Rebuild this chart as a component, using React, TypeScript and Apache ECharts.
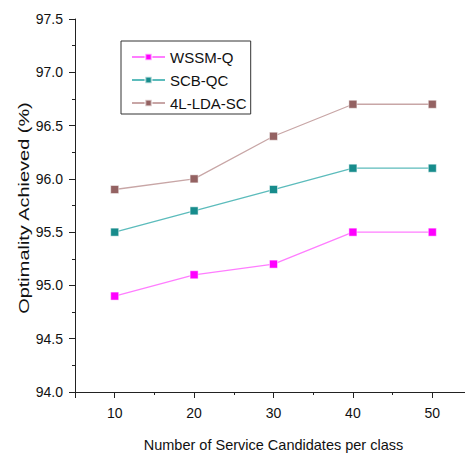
import React, { useEffect, useRef } from "react";
import * as echarts from "echarts";

const categories = [10, 20, 30, 40, 50];
const seriesNames = ["WSSM-Q", "SCB-QC", "4L-LDA-SC"];
const wssmQ = [94.9, 95.1, 95.2, 95.5, 95.5];
const scbQc = [95.5, 95.7, 95.9, 96.1, 96.1];
const ldaSc = [95.9, 96.0, 96.4, 96.7, 96.7];
const xTickValues = [5, 10, 20, 30, 40, 50];
const xLabelValues = [10, 20, 30, 40, 50];
const xTitle = "Number of Service Candidates per class";
const yTitle = "Optimality Achieved (%)";

const markerColors = ["#ff00ff", "#178c8c", "#946262"];
const lineColors = ["#ff7dff", "#5cbcbc", "#c8a6a6"];

export default function App() {
  const ref = useRef<HTMLDivElement>(null);
  useEffect(() => {
    if (!ref.current) return;
    const chart = echarts.init(ref.current, undefined, { renderer: "svg" });
    const font = "Liberation Sans, Arial, sans-serif";
    const values = [wssmQ, scbQc, ldaSc];
    const series = seriesNames.map((name, i) => ({
      name,
      type: "line",
      xAxisIndex: 0,
      yAxisIndex: 0,
      data: categories.map((c, j) => [c, values[i][j]]),
      symbol: "rect",
      symbolSize: 8,
      lineStyle: { color: lineColors[i], width: 1.3 },
      itemStyle: { color: markerColors[i], borderColor: "rgba(255,255,255,0.6)", borderWidth: 0.8 },
      emphasis: { disabled: true },
    }));
    const axisLine = { show: true, lineStyle: { color: "#222", width: 1 } };
    chart.setOption({
      animation: false,
      backgroundColor: "#ffffff",
      grid: { left: 75, top: 19, bottom: 62, right: -7, outerBoundsMode: "none", containLabel: false },
      legend: {
        orient: "vertical",
        left: 121,
        top: 41,
        data: seriesNames,
        backgroundColor: "#fff",
        borderColor: "#333",
        borderWidth: 1,
        padding: [8, 4, 3, 10],
        itemWidth: 33,
        itemHeight: 8,
        itemGap: 7,
        textStyle: { fontFamily: font, fontSize: 15, color: "#111", lineHeight: 16 },
      },
      xAxis: [
        {
          type: "value",
          min: 5,
          max: 55,
          interval: 5,
          position: "bottom",
          axisLine,
          axisTick: { show: true, length: 3, lineStyle: { color: "#222" } },
          axisLabel: { show: false },
          splitLine: { show: false },
        },
        {
          type: "value",
          min: 5,
          max: 55,
          interval: 5,
          position: "bottom",
          name: xTitle,
          nameLocation: "middle",
          nameGap: 45,
          nameTextStyle: { fontFamily: font, fontSize: 14.5, color: "#111" },
          axisLine,
          axisTick: { show: true, length: 6, customValues: xTickValues, lineStyle: { color: "#222" } },
          axisLabel: {
            margin: 14,
            fontFamily: font,
            fontSize: 14,
            color: "#111",
            customValues: xLabelValues,
          },
          splitLine: { show: false },
        },
      ],
      yAxis: {
        type: "value",
        min: 94,
        max: 97.5,
        interval: 0.5,
        axisLine,
        axisTick: { show: true, length: 6, lineStyle: { color: "#222" } },
        minorTick: { show: true, splitNumber: 2, length: 3, lineStyle: { color: "#222" } },
        axisLabel: {
          margin: 12,
          fontFamily: font,
          fontSize: 14,
          color: "#111",
          formatter: (v: number) => v.toFixed(1),
        },
        splitLine: { show: false },
        minorSplitLine: { show: false },
      },
      graphic: [
        {
          type: "text",
          x: 23.5,
          y: 208,
          rotation: Math.PI / 2,
          scaleX: 1.33,
          style: {
            text: yTitle,
            font: `15px ${font}`,
            fill: "#111",
            align: "center",
            verticalAlign: "middle",
          },
        },
      ],
      series,
    });
    return () => chart.dispose();
  }, []);
  return (
    <div
      ref={ref}
      style={{ position: "absolute", left: 0, top: 0, width: 465, height: 454, background: "#fff" }}
    />
  );
}
